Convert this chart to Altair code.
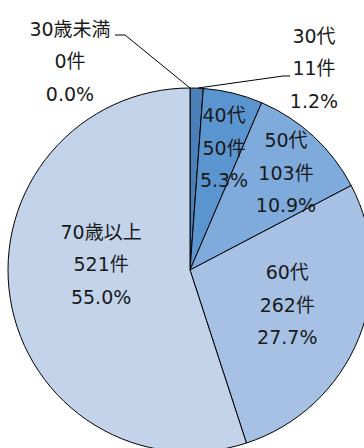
import math
import altair as alt
import pandas as pd

categories = ["30歳未満", "30代", "40代", "50代", "60代", "70歳以上"]
counts = [0, 11, 50, 103, 262, 521]
colors = ["#3f6fa6", "#4a7fb8", "#5b95d0", "#7eaadc", "#a6c1e4", "#c3d3ea"]

total = sum(counts)
df = pd.DataFrame({"cat": categories, "count": counts, "order": list(range(len(counts)))})
df["pct"] = [f"{c / total * 100:.1f}%" for c in counts]
df["label"] = df["cat"] + "\n" + df["count"].astype(str) + "件\n" + df["pct"]

FONT = "DejaVu Sans, Noto Sans CJK JP"
FS = 19
LH = 32.5
TXT = "#1a1a1a"
CX, CY, R = 190, 270, 182
theta_scale = alt.Scale(domain=[0, total], range=[0, 2 * math.pi])

base = alt.Chart(df).transform_window(
    cum="sum(count)", sort=[alt.SortField("order")], frame=[None, 0]
).transform_calculate(
    start="datum.cum - datum.count", mid="datum.cum - datum.count / 2"
)

arcs = base.mark_arc(x=CX, y=CY, outerRadius=R, stroke="black", strokeWidth=1).encode(
    theta=alt.Theta("start:Q", scale=theta_scale),
    theta2="cum:Q",
    color=alt.Color("cat:N", scale=alt.Scale(domain=categories, range=colors), legend=None),
)


def inner(cat, r, dx=0, dy=0):
    return base.transform_filter(alt.datum.cat == cat).mark_text(
        x=CX, y=CY, radius=r, dx=dx, dy=dy - LH, lineBreak="\n", lineHeight=LH,
        fontSize=FS, font=FONT, color=TXT, align="center", baseline="middle",
    ).encode(theta=alt.Theta("mid:Q", scale=theta_scale), text="label:N")


def outer(cat, x, y):
    return base.transform_filter(alt.datum.cat == cat).mark_text(
        x=x, y=y, dy=-LH, lineBreak="\n", lineHeight=LH,
        fontSize=FS, font=FONT, color=TXT, align="center", baseline="middle",
    ).encode(text="label:N")


leader = pd.DataFrame({
    "g": ["a", "a", "a", "b", "b", "b"],
    "i": [0, 1, 2, 0, 1, 2],
    "x": [115, 125, 190, 290, 283, 198],
    "y": [35, 35, 88, 76, 76, 88],
})
lines = alt.Chart(leader).mark_line(color="black", strokeWidth=1).encode(
    x=alt.X("x:Q", scale=None, axis=None),
    y=alt.Y("y:Q", scale=None, axis=None),
    detail="g:N",
    order="i:Q",
)

chart = alt.layer(
    arcs,
    lines,
    inner("40代", 127, dx=4, dy=2),
    inner("50代", 134, dx=5, dy=2),
    inner("60代", 105, dy=-4),
    inner("70歳以上", 90, dy=-19),
    outer("30歳未満", 70, 62),
    outer("30代", 314, 69),
).properties(width=364, height=448, autosize="none", padding=0).configure_view(stroke=None)

chart.save("out.html", embed_options={"renderer": "svg", "actions": False})
